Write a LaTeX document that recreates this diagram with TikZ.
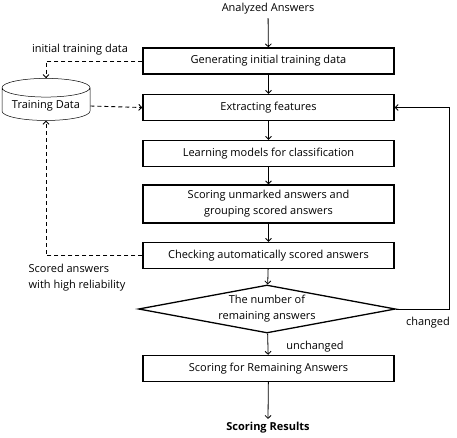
\documentclass[tikz,border=0pt]{standalone}
\usepackage{fontspec}
\setmainfont{Open Sans}
\usetikzlibrary{shapes.geometric,arrows.meta}

\begin{document}
\begin{tikzpicture}[x=1pt, y=-1pt, font=\fontsize{11}{16}\selectfont,
        proc/.style={draw, line width=1.3pt, minimum width=251pt, minimum height=26pt, inner sep=2pt, align=center},
        flow/.style={-{Straight Barb[length=3pt,width=6pt]}, line width=0.8pt},
        back/.style={flow, dash pattern=on 4pt off 3pt, line width=0.9pt}]
        \useasboundingbox (0,0) rectangle (457,438);

        \node (in) at (268,9) {Analyzed Answers};
        \node[proc] (gen) at (268.5,61) {Generating initial training data};
        \node[proc] (ext) at (268.5,107.5) {Extracting features};
        \node[proc] (learn) at (268.5,153.5) {Learning models for classification};
        \node[proc, minimum height=38pt] (score) at (268.5,204) {Scoring unmarked answers and\\grouping scored answers};
        \node[proc] (check) at (268.5,255.5) {Checking automatically scored answers};
        \node[draw, diamond, line width=1.3pt, minimum width=257pt, minimum height=48pt, aspect=5.3, inner sep=0pt, align=center] (dec) at (267,309) {The number of\\remaining answers};
        \node[proc] (rest) at (268.5,368.5) {Scoring for Remaining Answers};
        \node[font=\fontsize{11}{16}\selectfont\bfseries] (res) at (268,428) {Scoring Results};

        \node[draw, cylinder, shape border rotate=90, aspect=0.25, minimum width=88pt, minimum height=42pt, line width=0.5pt] (db) at (46,106) {Training Data};

        \foreach \a/\b in {in/gen, gen/ext, ext/learn, learn/score, score/check, check/dec, dec/rest}
            \draw[flow] (\a) -- (\b);
        \draw[flow] (rest) -- (res.north);

        \coordinate (loop) at (449,309);
        \draw[flow] (dec.east) -- (loop) |- (ext.east);
        \node at (428,323) {changed};
        \node at (315,347) {unchanged};

        \draw[back] (gen.west) -| (db.north);
        \draw[back] (db.east) -- (ext.west);
        \draw[back] (check.west) -| (db.south);
        \node at (80,50) {initial training data};
        \node[align=left] at (77,278) {Scored answers\\with high reliability};
    \end{tikzpicture}
\end{document}
